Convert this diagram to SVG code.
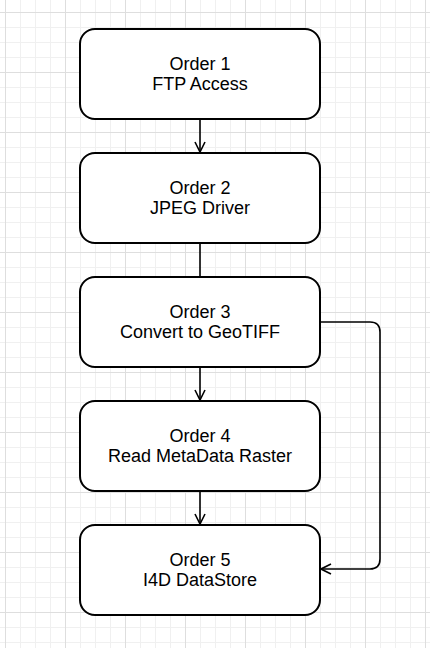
<svg xmlns="http://www.w3.org/2000/svg" width="430" height="648" viewBox="0 0 430 648">
<defs>
<pattern id="minor" width="15" height="15" patternUnits="userSpaceOnUse" x="5" y="12">
<path d="M0 0.5H15M0.5 0V15" fill="none" stroke="#f0f0f0" stroke-width="1"/>
</pattern>
<pattern id="major" width="60" height="60" patternUnits="userSpaceOnUse" x="5" y="12">
<path d="M0 0.5H60M0.5 0V60" fill="none" stroke="#dedede" stroke-width="1"/>
</pattern>
<marker id="arr" viewBox="0 0 12 12" markerWidth="12" markerHeight="12" refX="11" refY="6" orient="auto" markerUnits="userSpaceOnUse">
<path d="M1 1L11 6L1 11" fill="none" stroke="#000" stroke-width="1.6"/>
</marker>
</defs>
<style>
.box{fill:#fff;stroke:#000;stroke-width:2}
.t{font-family:"Liberation Sans",Arial,sans-serif;font-size:18px;fill:#000;text-anchor:middle}
.c{fill:none;stroke:#000;stroke-width:1.6}
</style>
<rect width="430" height="648" fill="#fff"/>
<rect width="430" height="648" fill="url(#minor)"/>
<rect width="430" height="648" fill="url(#major)"/>
<g id="connectors">
<path class="c" d="M200 119V152" marker-end="url(#arr)"/>
<path class="c" d="M200 243V277"/>
<path class="c" d="M200 367V400" marker-end="url(#arr)"/>
<path class="c" d="M200 491V524" marker-end="url(#arr)"/>
<path class="c" d="M321 322H370Q380 322 380 332V559Q380 569 370 569H321" marker-end="url(#arr)"/>
</g>
<g id="n1"><rect class="box" x="80" y="29" width="240" height="90" rx="15"/><text class="t" x="200" y="69.5">Order 1</text><text class="t" x="200" y="89.5">FTP Access</text></g>
<g id="n2"><rect class="box" x="80" y="153" width="240" height="90" rx="15"/><text class="t" x="200" y="193.5">Order 2</text><text class="t" x="200" y="213.5">JPEG Driver</text></g>
<g id="n3"><rect class="box" x="80" y="277" width="240" height="90" rx="15"/><text class="t" x="200" y="317.5">Order 3</text><text class="t" x="200" y="337.5">Convert to GeoTIFF</text></g>
<g id="n4"><rect class="box" x="80" y="401" width="240" height="90" rx="15"/><text class="t" x="200" y="441.5">Order 4</text><text class="t" x="200" y="461.5">Read MetaData Raster</text></g>
<g id="n5"><rect class="box" x="80" y="525" width="240" height="90" rx="15"/><text class="t" x="200" y="565.5">Order 5</text><text class="t" x="200" y="585.5">I4D DataStore</text></g>
</svg>
